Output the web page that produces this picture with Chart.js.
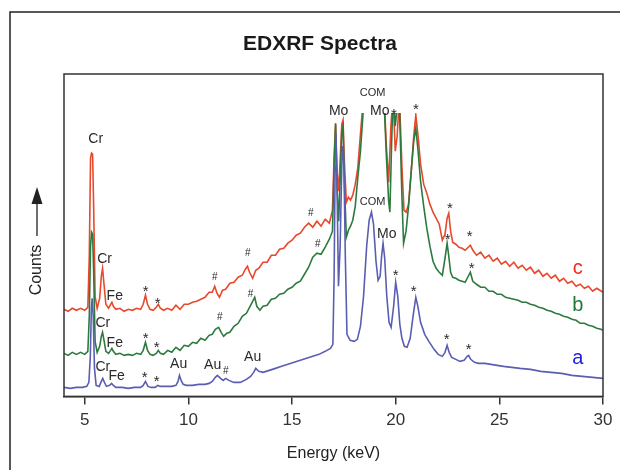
<!DOCTYPE html>
<html>
<head>
<meta charset="utf-8">
<script src="https://cdn.jsdelivr.net/npm/chart.js@4.4.1/dist/chart.umd.min.js"></script>
<style>
  body { margin: 0; background: #fff; }
  canvas { display: block; }
</style>
</head>
<body>
<canvas id="spectraChart" width="620" height="470"></canvas>
<script>
// x tick values (keV)
var tickValues = [5, 10, 15, 20, 25, 30];

// spectrum a (blue)
var energyA = [4.0,4.3,4.6,4.9,5.1,5.2,5.27,5.32,5.36,5.41,5.47,5.55,5.7,5.8,5.87,5.95,6.05,6.2,6.3,6.38,
  6.5,6.8,7.1,7.4,7.7,7.82,7.93,8.05,8.2,8.4,8.52,8.65,8.9,9.2,9.4,9.5,9.57,9.65,9.75,9.9,
  10.2,10.5,10.8,11.0,11.15,11.3,11.4,11.55,11.68,11.8,11.95,12.2,12.5,12.8,13.0,13.15,13.25,13.4,13.6,13.9,
  14.2,14.5,14.8,15.1,15.4,15.7,16.0,16.3,16.6,16.85,16.97,17.03,17.08,17.12,17.17,17.24,17.32,17.4,17.45,17.5,
  17.57,17.65,17.8,18.0,18.15,18.3,18.45,18.6,18.72,18.83,18.93,19.05,19.15,19.25,19.32,19.39,19.47,19.57,19.68,19.78,
  19.9,20.0,20.1,20.2,20.3,20.42,20.55,20.7,20.85,20.97,21.07,21.2,21.4,21.6,21.85,22.05,22.25,22.38,22.48,22.58,
  22.7,22.9,23.1,23.3,23.45,23.52,23.62,23.8,24.0,24.3,24.6,24.9,25.2,25.6,26.0,26.5,27.0,27.5,28.0,28.5,
  29.0,29.5,30.0];
var countsA = [9,8,9,9,10,14,40,88,98,80,28,11,10,15,18,14,10,11,13,11,
  9,9,8,9,9,11,15,10,9,9,11,10,10,10,11,15,21,16,12,11,
  11,12,12,13,15,19,21,18,16,18,16,14,14,17,20,24,28,25,24,26,
  28,30,32,34,36,38,40,42,45,48,52,120,230,262,210,110,150,230,250,235,
  140,62,56,55,57,70,100,150,176,184,172,135,116,120,140,153,138,100,74,69,
  90,114,100,72,58,50,49,58,82,99,90,74,62,55,47,42,40,44,51,44,
  39,37,35,36,40,41,37,34,33,33,32,31,30,29,28,27,25,24,23,21,
  20,19,18];

// spectrum b (green)
var energyB = [4.0,4.2,4.4,4.6,4.8,5.0,5.15,5.22,5.28,5.33,
  5.38,5.43,5.5,5.6,5.72,5.8,5.86,5.93,6.02,6.15,
  6.25,6.31,6.38,6.5,6.7,6.9,7.1,7.3,7.5,7.7,
  7.82,7.93,8.03,8.15,8.3,8.45,8.55,8.65,8.8,9.0,
  9.2,9.4,9.6,9.8,10.0,10.2,10.4,10.6,10.8,11.0,
  11.15,11.3,11.46,11.58,11.7,11.85,12.0,12.2,12.4,12.6,
  12.8,12.95,13.1,13.2,13.3,13.45,13.6,13.8,14.0,14.2,
  14.4,14.6,14.8,15.0,15.2,15.4,15.6,15.8,16.0,16.2,
  16.4,16.6,16.8,16.95,17.03,17.1,17.17,17.25,17.33,17.4,
  17.46,17.53,17.62,17.72,17.82,17.93,18.05,18.17,18.3,18.45,
  18.7,19.0,19.3,19.45,19.55,19.66,19.72,19.8,19.87,19.98,
  20.07,20.18,20.3,20.38,20.5,20.62,20.75,20.87,20.97,21.08,
  21.2,21.35,21.5,21.65,21.8,21.95,22.1,22.25,22.38,22.48,
  22.56,22.65,22.75,22.9,23.05,23.2,23.35,23.5,23.6,23.72,
  23.9,24.1,24.3,24.5,24.7,24.9,25.1,25.3,25.5,25.7,
  25.9,26.1,26.3,26.5,26.7,26.9,27.1,27.3,27.5,27.7,
  27.9,28.1,28.3,28.5,28.7,28.9,29.1,29.3,29.5,29.7,
  29.9,30.0];
var countsB = [43,41,44,42,44,42,45,80,150,164,
  162,125,55,44,50,60,64,56,45,43,
  46,48,45,42,43,41,42,41,43,42,
  46,54,46,42,41,43,46,43,42,46,
  44,49,46,51,50,54,53,58,56,61,
  62,67,69,64,60,63,64,70,73,80,
  83,89,95,99,90,86,90,91,97,98,
  102,103,107,109,113,115,122,129,139,143,
  142,149,157,165,230,272,210,175,220,265,
  270,210,159,166,170,176,190,218,245,290,
  330,340,330,290,240,195,184,250,300,270,
  290,290,200,153,165,190,225,255,268,245,
  215,190,168,150,135,128,124,121,138,153,
  140,124,119,118,116,115,114,120,124,115,
  112,109,109,105,105,102,102,99,98,97,
  96,94,94,92,91,89,88,86,85,83,
  82,80,79,77,76,73,73,71,70,68,
  67,66];

// spectrum c (red)
var energyC = [4.0,4.2,4.4,4.6,4.8,5.0,5.15,5.22,5.28,5.33,
  5.38,5.43,5.5,5.6,5.72,5.8,5.86,5.93,6.02,6.15,
  6.25,6.31,6.38,6.5,6.7,6.9,7.1,7.3,7.5,7.7,
  7.82,7.93,8.03,8.15,8.3,8.45,8.55,8.65,8.8,9.0,
  9.2,9.4,9.6,9.8,10.0,10.2,10.4,10.6,10.8,11.0,
  11.15,11.27,11.38,11.5,11.65,11.8,12.0,12.2,12.4,12.6,
  12.75,12.85,12.95,13.1,13.25,13.4,13.6,13.8,14.0,14.2,
  14.4,14.6,14.8,15.0,15.2,15.4,15.6,15.8,16.0,16.2,
  16.4,16.6,16.8,16.95,17.03,17.1,17.17,17.25,17.33,17.4,
  17.46,17.53,17.62,17.72,17.82,17.93,18.05,18.17,18.3,18.45,
  18.7,19.0,19.3,19.45,19.55,19.66,19.77,19.87,19.98,20.07,
  20.18,20.3,20.4,20.5,20.62,20.75,20.87,20.97,21.08,21.2,
  21.35,21.5,21.65,21.8,21.95,22.1,22.25,22.38,22.48,22.56,
  22.65,22.75,22.9,23.05,23.2,23.35,23.5,23.6,23.72,23.9,
  24.1,24.3,24.5,24.7,24.9,25.1,25.3,25.5,25.7,25.9,
  26.1,26.3,26.5,26.7,26.9,27.1,27.3,27.5,27.7,27.9,
  28.1,28.3,28.5,28.7,28.9,29.1,29.3,29.5,29.7,30.0];
var countsC = [87,85,88,86,88,86,89,140,238,243,
  242,190,100,88,98,120,128,112,92,88,
  92,94,90,87,88,85,87,86,88,87,
  92,101,92,87,86,89,92,88,86,88,
  86,91,87,92,92,94,95,97,99,104,
  104,110,103,99,106,107,113,114,119,121,
  127,130,124,118,126,128,134,134,141,141,
  147,148,153,156,161,163,169,173,169,175,
  170,177,173,186,240,273,225,205,240,272,
  276,232,194,199,196,201,212,228,262,300,
  330,340,330,295,250,214,270,300,245,260,
  300,230,186,184,192,225,260,281,260,232,
  212,203,192,184,178,172,156,162,178,183,
  165,154,152,149,148,146,149,151,146,141,
  144,138,141,135,138,132,135,130,134,128,
  131,126,129,123,126,120,123,118,121,115,
  118,113,115,110,112,108,110,105,108,104];

// peak labels: text, energy, counts
var peakText = ["Cr","Cr","Fe","*","*","#","#","#",
  "Cr","Fe","*","*","#","#","#",
  "Cr","Fe","*","*","Au","Au","#","Au",
  "Mo","COM","Mo","*","*",
  "COM","Mo","*","*",
  "*","*","*","*","*","*"];
var peakEnergy = [5.53,5.96,6.45,7.94,8.52,11.27,12.86,15.9,
  5.87,6.45,7.94,8.47,11.51,13.0,16.24,
  5.87,6.54,7.89,8.47,9.53,11.17,11.8,13.1,
  17.25,18.89,19.23,19.91,20.97,
  18.89,19.57,20.0,20.87,
  22.61,23.57,22.51,23.67,22.46,23.52];
var peakCounts = [257,137,100,107,95,119,143,183,
  73,53,60,51,79,102,152,
  29,20,22,18,32,31,25,39,
  285,303,285,284,289,
  194,162,123,107,
  190,162,159,130,59,49];

// curve names
var seriesNames = ["a", "b", "c"];
var seriesColors = ["#5a5eb2", "#2c7a3e", "#e8492c"];
var nameColors = ["#2323e0", "#1f7a35", "#ee2a24"];
var nameEnergy = 28.78;
var nameCounts = [38, 91, 128];

var chartTitle = "EDXRF Spectra";

function toPoints(xs, ys) {
  return xs.map(function (x, i) { return { x: x, y: ys[i] }; });
}

var decorPlugin = {
  id: "decor",
  beforeDraw: function (chart) {
    var ctx = chart.ctx;
    ctx.save();
    ctx.fillStyle = "#fff";
    ctx.fillRect(0, 0, chart.width, chart.height);
    // outer frame (only top and left edges are inside the picture)
    ctx.strokeStyle = "#222";
    ctx.lineWidth = 1.5;
    ctx.strokeRect(10, 12, chart.width + 20, chart.height + 20);

    // title, centred on the figure rather than the plot
    ctx.fillStyle = "#1a1a1a";
    ctx.font = "bold 21px 'Liberation Sans'";
    ctx.textAlign = "center";
    ctx.textBaseline = "middle";
    ctx.fillText(chartTitle, 320, 44);
    ctx.restore();
  },
  afterDraw: function (chart) {
    var ctx = chart.ctx;
    var area = chart.chartArea;
    var xs = chart.scales.x;
    var ys = chart.scales.y;
    ctx.save();
    // plot frame
    ctx.strokeStyle = "#333";
    ctx.lineWidth = 1.5;
    ctx.strokeRect(area.left, area.top, area.right - area.left, area.bottom - area.top);

    // Counts label with arrow
    ctx.fillStyle = "#222";
    ctx.translate(37, 270);
    ctx.rotate(-Math.PI / 2);
    ctx.font = "16px 'Liberation Sans'";
    ctx.textAlign = "center";
    ctx.textBaseline = "middle";
    ctx.fillText("Counts", 0, 0);
    ctx.restore();

    ctx.save();
    ctx.strokeStyle = "#222";
    ctx.fillStyle = "#222";
    ctx.lineWidth = 1.3;
    ctx.beginPath();
    ctx.moveTo(37, 236);
    ctx.lineTo(37, 200);
    ctx.stroke();
    ctx.beginPath();
    ctx.moveTo(37, 187);
    ctx.lineTo(42.5, 204);
    ctx.lineTo(31.5, 204);
    ctx.closePath();
    ctx.fill();

    // peak labels
    ctx.fillStyle = "#2a2a2a";
    ctx.textAlign = "center";
    ctx.textBaseline = "middle";
    peakText.forEach(function (t, i) {
      var px = xs.getPixelForValue(peakEnergy[i]);
      var py = ys.getPixelForValue(peakCounts[i]);
      var size = 14;
      if (t === "COM") size = 11;
      if (t === "#") size = 10;
      if (t === "*") { size = 15; py += 3; }
      ctx.font = size + "px 'Liberation Sans'";
      ctx.fillText(t, px, py);
    });

    // curve names
    ctx.font = "20px 'Liberation Sans'";
    seriesNames.forEach(function (n, i) {
      ctx.fillStyle = nameColors[i];
      ctx.fillText(n, xs.getPixelForValue(nameEnergy), ys.getPixelForValue(nameCounts[i]));
    });
    ctx.restore();
  }
};

Chart.defaults.font.family = "'Liberation Sans', Arial, sans-serif";
Chart.defaults.color = "#333";

var spectraCtx = document.getElementById("spectraChart").getContext("2d");

var lineClip = { left: 0, top: -39, right: 0, bottom: 0 };

var spectraChart = new Chart(spectraCtx, {
  type: "line",
  data: {
    datasets: [
      { label: seriesNames[0], data: toPoints(energyA, countsA), borderColor: seriesColors[0] },
      { label: seriesNames[1], data: toPoints(energyB, countsB), borderColor: seriesColors[1] },
      { label: seriesNames[2], data: toPoints(energyC, countsC), borderColor: seriesColors[2] }
    ]
  },
  options: {
    responsive: false,
    animation: false,
    devicePixelRatio: 1,
    datasets: {
      line: {
        borderWidth: 1.6,
        pointRadius: 0,
        tension: 0,
        fill: false,
        clip: lineClip
      }
    },
    layout: {
      padding: { left: 64, right: 17, top: 74, bottom: 3 }
    },
    plugins: {
      legend: { display: false },
      tooltip: { enabled: false },
      title: { display: false }
    },
    scales: {
      x: {
        type: "linear",
        min: 4,
        max: 30,
        afterBuildTicks: function (axis) {
          axis.ticks = tickValues.map(function (v) { return { value: v }; });
        },
        ticks: {
          padding: 6,
          color: "#333",
          font: { size: 17 }
        },
        grid: {
          drawOnChartArea: false,
          drawTicks: true,
          tickLength: 8,
          color: "#333",
          lineWidth: 1.5
        },
        border: { display: true, color: "#333", width: 1.5 },
        title: {
          display: true,
          text: "Energy (keV)",
          color: "#222",
          font: { size: 16 },
          padding: { top: 7, bottom: 4 }
        }
      },
      y: {
        display: false,
        min: 0,
        max: 322
      }
    }
  },
  plugins: [decorPlugin]
});
</script>
</body>
</html>
